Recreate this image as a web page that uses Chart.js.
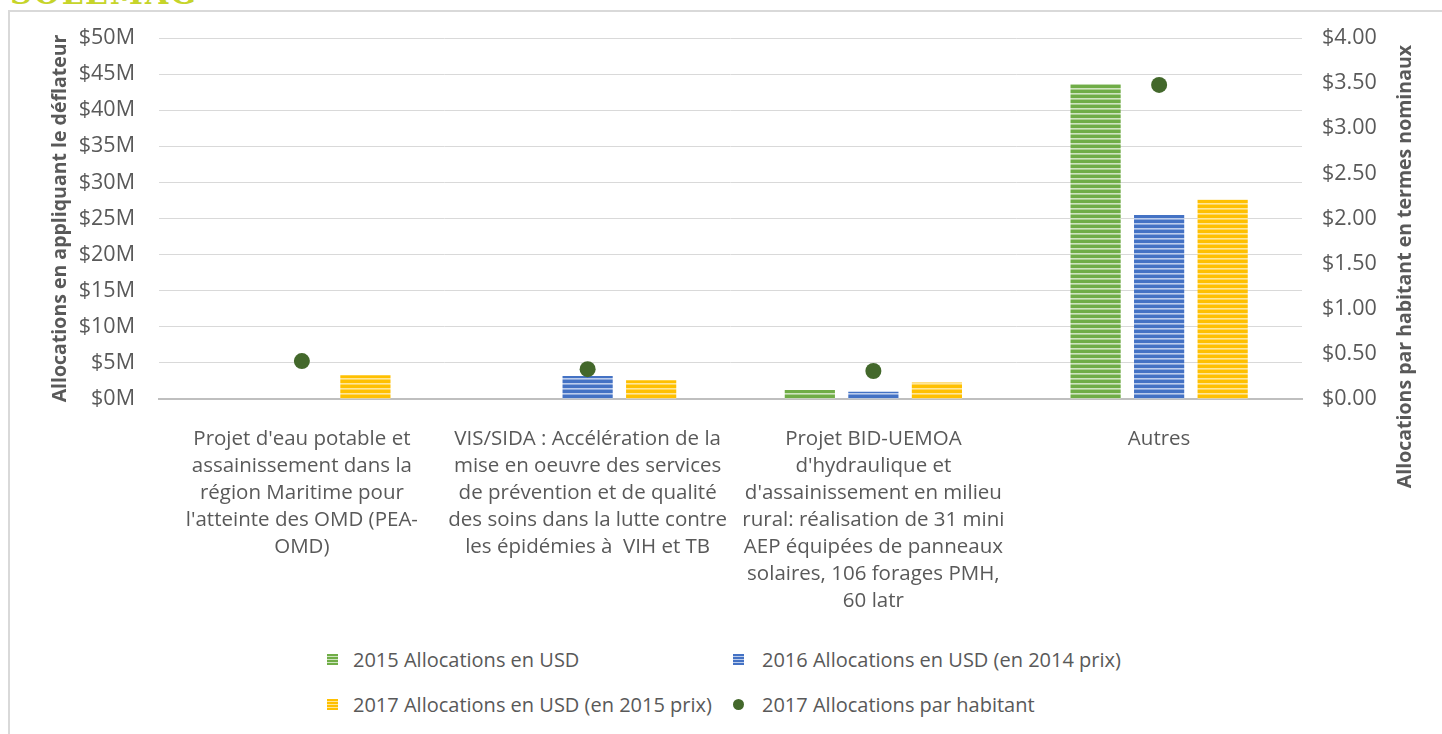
<!DOCTYPE html>
<html lang="fr">
<head>
    <meta charset="UTF-8">
    <title>Allocations</title>
    <style>
        body {
            margin: 0;
            background: #fff;
            overflow: hidden;
            font-family: "Open Sans", sans-serif;
        }
        #brand {
            position: absolute;
            left: 10px;
            top: -24px;
            font-family: "DejaVu Serif", serif;
            font-weight: bold;
            font-size: 30px;
            color: #c6d42a;
            letter-spacing: 2px;
        }
        #frame {
            position: absolute;
            left: 8px;
            top: 10px;
            width: 1500px;
            height: 800px;
            border-left: 2px solid #d9d9d9;
            border-top: 2px solid #d9d9d9;
        }
        #chart {
            position: absolute;
            left: 0;
            top: 0;
        }
        #legend {
            position: absolute;
            left: 327px;
            top: 646px;
            display: grid;
            grid-template-columns: 406px auto;
            row-gap: 18px;
            font-size: 20px;
            color: #595959;
        }
        .item {
            display: flex;
            align-items: center;
            height: 27px;
            white-space: nowrap;
        }
        .box, .dot {
            width: 11px;
            height: 11px;
            margin-right: 15px;
        }
        .dot {
            border-radius: 50%;
        }
        .item:nth-child(even) .box, .item:nth-child(even) .dot {
            margin-right: 18px;
        }
    </style>
</head>
<body>
<div id="brand">SOLEMAG</div>
<div id="frame"></div>
<canvas id="chart" width="1442" height="630"></canvas>
<div id="legend"></div>
<script src="https://cdn.jsdelivr.net/npm/chart.js"></script>
<script>
    const categories = [
        ["Projet d'eau potable et", "assainissement dans la", "région Maritime pour", "l'atteinte des OMD (PEA-", "OMD)"],
        ["VIS/SIDA : Accélération de la", "mise en oeuvre des services", "de prévention et de qualité", "des soins dans la lutte contre", "les épidémies à  VIH et TB"],
        ["Projet BID-UEMOA", "d'hydraulique et", "d'assainissement en milieu", "rural: réalisation de 31 mini", "AEP équipées de panneaux", "solaires, 106 forages PMH,", "60 latr"],
        ["Autres"]
    ];
    const seriesNames = [
        "2015 Allocations en USD",
        "2016 Allocations en USD (en 2014 prix)",
        "2017 Allocations en USD (en 2015 prix)",
        "2017 Allocations par habitant"
    ];
    // millions USD
    const alloc2015 = [0, 0, 1.25, 43.6];
    const alloc2016 = [0, 3.2, 1.0, 25.5];
    const alloc2017 = [3.3, 2.6, 2.3, 27.6];
    // USD per inhabitant
    const perCapita2017 = [0.42, 0.33, 0.31, 3.48];

    const leftTicks = { min: 0, max: 50, step: 5 };
    const rightTicks = { min: 0, max: 4, step: 0.5 };

    const colors = ['#70ad47', '#4472c4', '#ffc000'];
    const lightColors = ['#cfe4c0', '#bccdec', '#ffe699'];
    const dotColor = '#43682b';
    const textColor = '#595959';

    function stripes(base, light) {
        const c = document.createElement('canvas');
        c.width = 4;
        c.height = 5;
        const g = c.getContext('2d');
        g.fillStyle = base;
        g.fillRect(0, 0, 4, 5);
        g.fillStyle = light;
        g.fillRect(0, 3, 4, 1);
        g.globalAlpha = 0.6;
        g.fillRect(0, 4, 4, 1);
        return g.createPattern(c, 'repeat');
    }

    const barSeries = [alloc2015, alloc2016, alloc2017];
    const datasets = barSeries.map((values, i) => ({
        type: 'bar',
        label: seriesNames[i],
        data: values.map(v => v * 1e6),
        backgroundColor: stripes(colors[i], lightColors[i]),
        borderWidth: 0,
        yAxisID: 'y',
        categoryPercentage: 0.667,
        barPercentage: 0.79,
        order: 2
    }));
    datasets.push({
        type: 'line',
        label: seriesNames[3],
        data: perCapita2017,
        showLine: false,
        pointRadius: 8,
        pointBackgroundColor: dotColor,
        pointBorderColor: dotColor,
        pointBorderWidth: 0,
        yAxisID: 'y1',
        order: 1
    });

    const axisTitles = {
        id: 'axisTitles',
        afterDraw(chart) {
            const ctx = chart.ctx;
            const area = chart.chartArea;
            ctx.save();
            ctx.fillStyle = textColor;
            ctx.font = 'bold 19.5px "Open Sans"';
            ctx.textBaseline = 'middle';

            ctx.save();
            ctx.translate(60, (area.top + area.bottom) / 2);
            ctx.rotate(-Math.PI / 2);
            ctx.textAlign = 'center';
            ctx.fillText('Allocations en appliquant le déflateur', 0, 0);
            ctx.restore();

            ctx.save();
            ctx.translate(1405, area.top + 7);
            ctx.rotate(-Math.PI / 2);
            ctx.textAlign = 'right';
            ctx.fillText('Allocations par habitant en termes nominaux', 0, 0);
            ctx.restore();

            ctx.restore();
        }
    };

    const htmlLegend = {
        id: 'htmlLegend',
        afterUpdate(chart) {
            const box = document.getElementById('legend');
            box.innerHTML = '';
            chart.data.datasets.forEach((ds, i) => {
                const item = document.createElement('div');
                item.className = 'item';
                const mark = document.createElement('span');
                if (ds.type === 'line') {
                    mark.className = 'dot';
                    mark.style.background = dotColor;
                } else {
                    mark.className = 'box';
                    mark.style.background = `repeating-linear-gradient(to bottom, ${colors[i]} 0 2px, ${lightColors[i]} 2px 3px)`;
                }
                item.appendChild(mark);
                item.appendChild(document.createTextNode(ds.label));
                box.appendChild(item);
            });
        }
    };

    new Chart(document.getElementById('chart'), {
        data: {
            labels: categories,
            datasets: datasets
        },
        options: {
            responsive: false,
            animation: false,
            devicePixelRatio: 1,
            layout: { padding: { top: 38, left: 0, right: 0, bottom: 0 } },
            plugins: {
                legend: { display: false },
                tooltip: { enabled: false }
            },
            scales: {
                x: {
                    grid: { display: false, drawTicks: false },
                    border: { color: '#bfbfbf', width: 2 },
                    ticks: {
                        autoSkip: false,
                        maxRotation: 0,
                        padding: 27,
                        color: textColor,
                        font: { family: 'Open Sans', size: 20.5, lineHeight: '27px' }
                    },
                    afterFit(scale) { scale.height = 231; }
                },
                y: {
                    position: 'left',
                    min: leftTicks.min * 1e6,
                    max: leftTicks.max * 1e6,
                    grid: { color: '#d9d9d9', drawTicks: false },
                    border: { display: false },
                    ticks: {
                        stepSize: leftTicks.step * 1e6,
                        padding: 24,
                        color: textColor,
                        font: { family: 'Open Sans', size: 21.5 },
                        callback: v => '$' + (v / 1e6) + 'M'
                    },
                    afterFit(scale) { scale.width = 159; }
                },
                y1: {
                    position: 'right',
                    min: rightTicks.min,
                    max: rightTicks.max,
                    grid: { display: false, drawTicks: false },
                    border: { display: false },
                    ticks: {
                        stepSize: rightTicks.step,
                        padding: 20,
                        color: textColor,
                        font: { family: 'Open Sans', size: 21.5 },
                        callback: v => '$' + v.toFixed(2)
                    },
                    afterFit(scale) { scale.width = 140; }
                }
            }
        },
        plugins: [axisTitles, htmlLegend]
    });
</script>
</body>
</html>
